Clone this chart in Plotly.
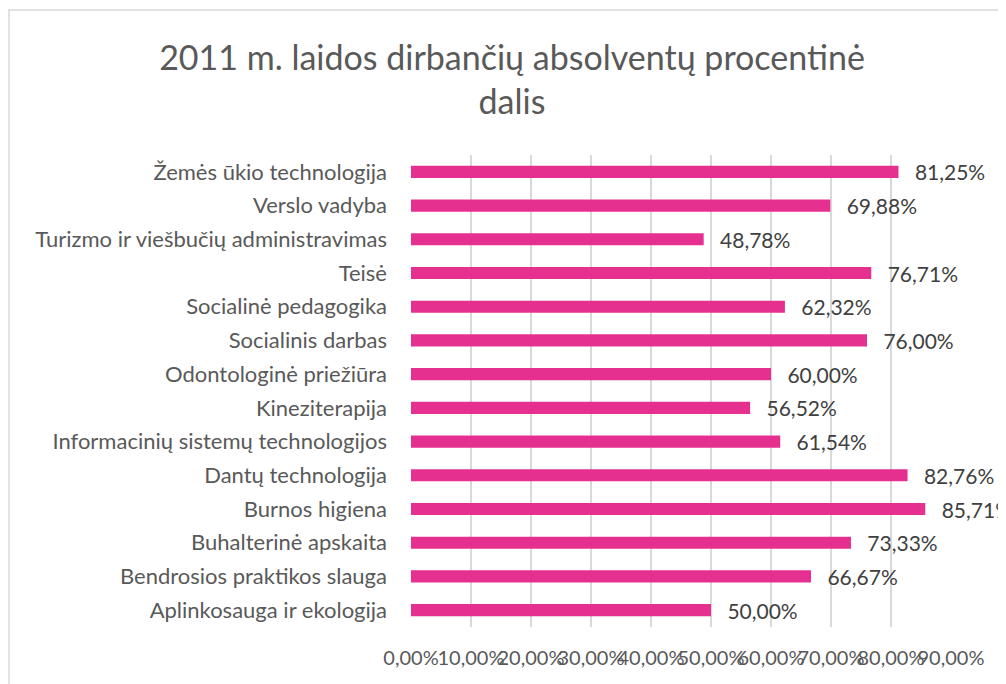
import plotly.graph_objects as go

programs = [
    "Žemės ūkio technologija",
    "Verslo vadyba",
    "Turizmo ir viešbučių administravimas",
    "Teisė",
    "Socialinė pedagogika",
    "Socialinis darbas",
    "Odontologinė priežiūra",
    "Kineziterapija",
    "Informacinių sistemų technologijos",
    "Dantų technologija",
    "Burnos higiena",
    "Buhalterinė apskaita",
    "Bendrosios praktikos slauga",
    "Aplinkosauga ir ekologija",
]
shares = [81.25, 69.88, 48.78, 76.71, 62.32, 76.00, 60.00,
          56.52, 61.54, 82.76, 85.71, 73.33, 66.67, 50.00]
tick_vals = [0, 10, 20, 30, 40, 50, 60, 70, 80, 90]
tick_text = ["0,00%", "10,00%", "20,00%", "30,00%", "40,00%",
             "50,00%", "60,00%", "70,00%", "80,00%", "90,00%"]

# data labels, nudged away from the bar end like in Excel
labels = ["\u00a0\u00a0\u2009" + f"{v:.2f}%".replace(".", ",") for v in shares]

FONT = "Lato"
W, H = 1006, 684
# the page body adds an 8px offset, so the figure is laid out 8px up/left
L, R, T, B = 403, 63, 147, 65

fig = go.Figure(
    go.Bar(
        x=shares,
        y=programs,
        orientation="h",
        marker=dict(color="#E6308F", line=dict(width=0)),
        width=0.36,
        text=labels,
        textposition="outside",
        constraintext="none",
        cliponaxis=False,
        textfont=dict(family=FONT, size=21, color="#404040"),
    )
)

fig.update_layout(
    width=W,
    height=H,
    margin=dict(l=L, r=R, t=T, b=B, autoexpand=False),
    plot_bgcolor="white",
    paper_bgcolor="white",
    showlegend=False,
    font=dict(family=FONT, color="#595959"),
    title=dict(
        text="2011 m. laidos dirbančių absolventų procentinė<br>dalis",
        x=0.501,
        xref="container",
        xanchor="center",
        y=0.91,
        yref="container",
        yanchor="middle",
        font=dict(family=FONT, size=34, color="#595959"),
    ),
)

fig.update_xaxes(
    range=[0, 90],
    tickvals=tick_vals,
    ticktext=tick_text,
    tickangle=0,
    showgrid=True,
    gridcolor="#D9D9D9",
    gridwidth=1.5,
    zeroline=False,
    showline=False,
    ticks="",
    automargin=False,
    ticklabelstandoff=17,
    tickfont=dict(family=FONT, size=20, color="#595959"),
)
fig.update_yaxes(
    autorange="reversed",
    showgrid=False,
    ticks="",
    automargin=False,
    ticklabelstandoff=23,
    tickfont=dict(family=FONT, size=22, color="#595959"),
)

# light frame around the whole chart
pw, ph = W - L - R, H - T - B
fig.add_shape(
    type="rect",
    xref="paper", yref="paper",
    x0=(1 - L) / pw, x1=(W + 10 - L) / pw,
    y0=(H - B - (H + 10)) / ph, y1=(H - B - 2) / ph,
    line=dict(color="#D9D9D9", width=1.5),
    fillcolor="rgba(0,0,0,0)",
    layer="below",
)

fig.write_html("out.html")
